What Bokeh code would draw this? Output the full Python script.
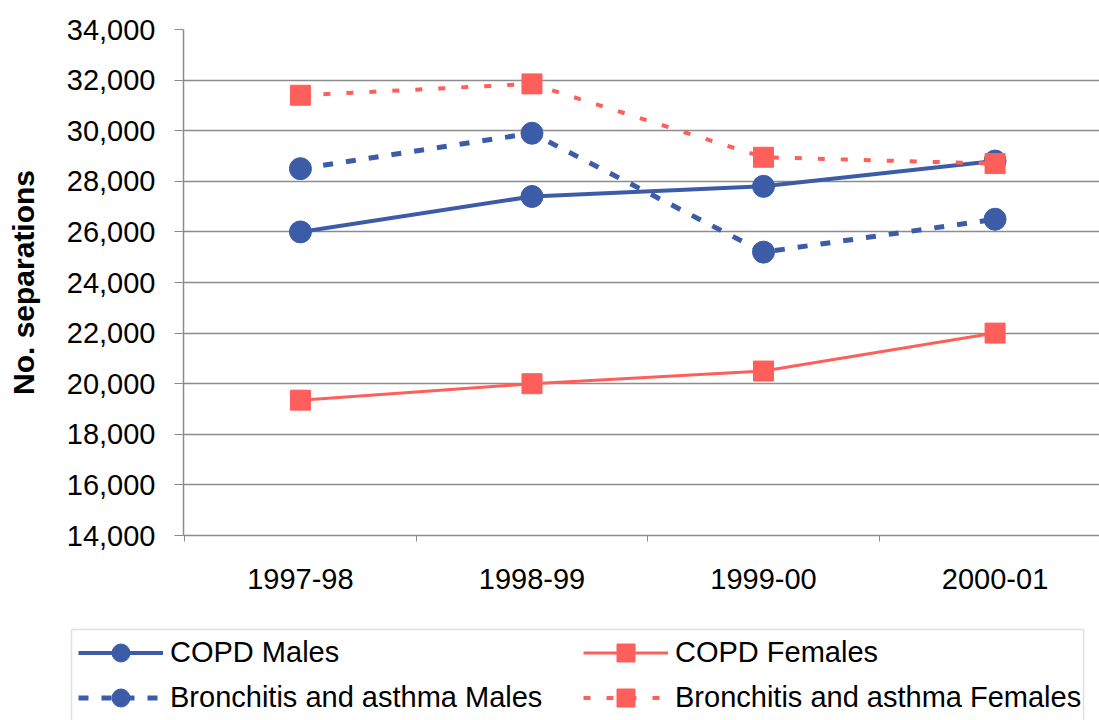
from bokeh.plotting import figure
from bokeh.models import (Range1d, FixedTicker, NumeralTickFormatter, Legend, LegendItem,
                          BoxAnnotation)
from bokeh.embed import file_html
from bokeh.resources import INLINE

categories = ["1997-98", "1998-99", "1999-00", "2000-01"]
copd_males = [26000, 27400, 27800, 28800]
copd_females = [19350, 20000, 20500, 22000]
bronch_males = [28500, 29900, 25200, 26500]
bronch_females = [31400, 31850, 28950, 28700]
y_ticks = list(range(14000, 34001, 2000))

BLUE = "#3d5ca8"
RED = "#ff5f5a"
FONT = "Liberation Sans"

xs = list(range(len(categories)))

p = figure(width=1099, height=608, output_backend="svg", toolbar_location=None,
           x_range=Range1d(-0.505, 3.451), y_range=Range1d(14000, 34000),
           min_border_left=183, min_border_right=0, min_border_top=29,
           min_border_bottom=73)
p.outline_line_color = None
p.background_fill_color = "white"
p.border_fill_color = "white"

# grid
p.xgrid.grid_line_color = None
p.ygrid.grid_line_color = "#8c8c8c"
p.ygrid.grid_line_width = 1.5

# y axis
p.yaxis.ticker = FixedTicker(ticks=y_ticks)
p.yaxis.formatter = NumeralTickFormatter(format="0,0")
p.yaxis.major_label_text_font = FONT
p.yaxis.major_label_text_font_size = "29px"
p.yaxis.major_label_text_color = "black"
p.yaxis.major_tick_in = 0
p.yaxis.major_tick_out = 9
p.yaxis.major_tick_line_color = "#8c8c8c"
p.yaxis.minor_tick_line_color = None
p.yaxis.axis_line_color = "#8c8c8c"
p.yaxis.axis_line_width = 1.5
p.yaxis.major_label_standoff = 19
p.yaxis.axis_label = "No. separations"
p.yaxis.axis_label_text_font = FONT
p.yaxis.axis_label_text_font_style = "bold"
p.yaxis.axis_label_text_font_size = "30px"
p.yaxis.axis_label_text_color = "black"
p.yaxis.axis_label_standoff = 24

# x axis
p.xaxis.ticker = FixedTicker(ticks=xs, minor_ticks=[-0.5, 0.5, 1.5, 2.5, 3.5])
p.xaxis.major_label_overrides = {i: c for i, c in enumerate(categories)}
p.xaxis.major_label_text_font = FONT
p.xaxis.major_label_text_font_size = "29px"
p.xaxis.major_label_text_color = "black"
p.xaxis.major_tick_line_color = None
p.xaxis.major_tick_in = 0
p.xaxis.major_tick_out = 0
p.xaxis.minor_tick_in = 0
p.xaxis.minor_tick_out = 6
p.xaxis.minor_tick_line_color = "#8c8c8c"
p.xaxis.axis_line_color = "#8c8c8c"
p.xaxis.axis_line_width = 1.5
p.xaxis.major_label_standoff = 27


def draw(fig):
    r = []
    r.append((fig.line(xs, copd_males, line_color=BLUE, line_width=4),
              fig.scatter(xs, copd_males, marker="circle", size=22, fill_color=BLUE, line_color=BLUE)))
    r.append((fig.line(xs, copd_females, line_color=RED, line_width=3),
              fig.scatter(xs, copd_females, marker="square", size=20, fill_color=RED, line_color=RED)))
    r.append((fig.line(xs, bronch_males, line_color=BLUE, line_width=5, line_dash="10 13"),
              fig.scatter(xs, bronch_males, marker="circle", size=22, fill_color=BLUE, line_color=BLUE)))
    r.append((fig.line(xs, bronch_females, line_color=RED, line_width=4, line_dash="7 16"),
              fig.scatter(xs, bronch_females, marker="square", size=20, fill_color=RED, line_color=RED)))
    return r


draw(p)

# legend strip below the chart (series drawn outside its visible range)
QW, QH = 1099, 112
q = figure(width=QW, height=QH, output_backend="svg", toolbar_location=None,
           x_range=Range1d(0, QW), y_range=Range1d(0, QH),
           x_axis_type=None, y_axis_type=None,
           min_border_left=0, min_border_right=0, min_border_top=0, min_border_bottom=0)
q.outline_line_color = None
q.xgrid.grid_line_color = None
q.ygrid.grid_line_color = None
q.background_fill_color = "white"
q.border_fill_color = "white"
rr = draw(q)
for pair in rr:
    for r in pair:
        r.visible = True
# keep the duplicate series out of view in the legend strip
q.x_range = Range1d(5000, 5000 + QW)
q.add_layout(BoxAnnotation(left=5000 + 71, right=5000 + 1083, top=QH - 21, bottom=-30,
                           fill_color=None, line_color="#999999", line_width=1.5))


def make_legend(items, x):
    lg = Legend(items=items, location=(x, 0), orientation="vertical")
    lg.label_text_font = FONT
    lg.label_text_font_size = "29px"
    lg.label_text_color = "black"
    lg.glyph_width = 85
    lg.glyph_height = 45
    lg.label_height = 36
    lg.label_standoff = 7
    lg.spacing = 0
    lg.padding = 0
    lg.margin = 0
    lg.border_line_color = None
    lg.background_fill_alpha = 0
    return lg


q.add_layout(make_legend([
    LegendItem(label="COPD Males", renderers=list(rr[0])),
    LegendItem(label="Bronchitis and asthma Males", renderers=list(rr[2])),
], 78), "center")
q.add_layout(make_legend([
    LegendItem(label="COPD Females", renderers=list(rr[1])),
    LegendItem(label="Bronchitis and asthma Females", renderers=list(rr[3])),
], 583), "center")

open("out.html", "w").write(file_html([p, q], INLINE))
